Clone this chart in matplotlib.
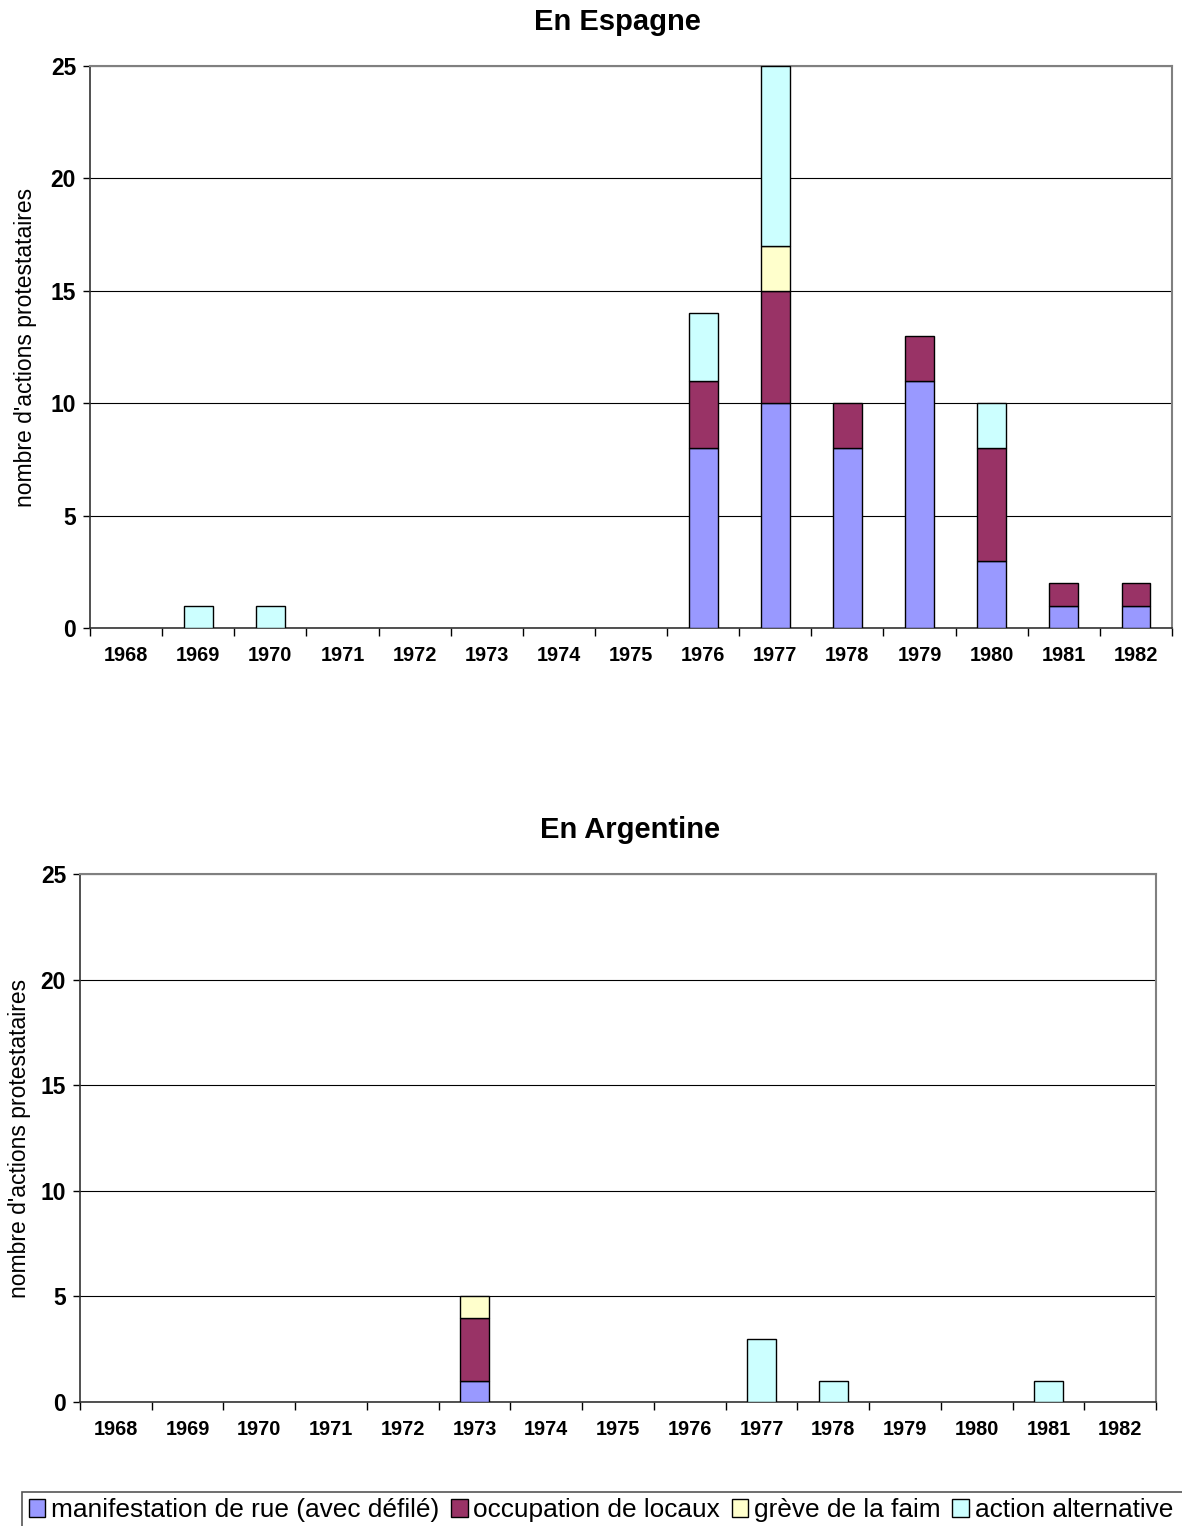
import numpy as np
import matplotlib
matplotlib.use("Agg")
import matplotlib.pyplot as plt
from matplotlib.patches import Patch, Rectangle

plt.rcParams['font.family'] = ['Liberation Sans', 'DejaVu Sans']

years = [str(y) for y in range(1968, 1983)]
series_names = ["manifestation de rue (avec défilé)", "occupation de locaux",
                "grève de la faim", "action alternative"]
colors = ['#9999FF', '#993366', '#FFFFCC', '#CCFFFF']

# En Espagne
es_manif = [0, 0, 0, 0, 0, 0, 0, 0, 8, 10, 8, 11, 3, 1, 1]
es_occup = [0, 0, 0, 0, 0, 0, 0, 0, 3, 5, 2, 2, 5, 1, 1]
es_greve = [0, 0, 0, 0, 0, 0, 0, 0, 0, 2, 0, 0, 0, 0, 0]
es_altern = [0, 1, 1, 0, 0, 0, 0, 0, 3, 8, 0, 0, 2, 0, 0]

# En Argentine
ar_manif = [0, 0, 0, 0, 0, 1, 0, 0, 0, 0, 0, 0, 0, 0, 0]
ar_occup = [0, 0, 0, 0, 0, 3, 0, 0, 0, 0, 0, 0, 0, 0, 0]
ar_greve = [0, 0, 0, 0, 0, 1, 0, 0, 0, 0, 0, 0, 0, 0, 0]
ar_altern = [0, 0, 0, 0, 0, 0, 0, 0, 0, 3, 1, 0, 0, 1, 0]

W, H = 1182, 1526
fig = plt.figure(figsize=(W / 100, H / 100), dpi=100)


def draw_panel(rect, title, title_xy, label_x, stacks):
    ax = fig.add_axes(rect)
    x = np.arange(len(years))
    bottom = np.zeros(len(years))
    for vals, col in zip(stacks, colors):
        vals = np.array(vals, dtype=float)
        mask = vals > 0
        ax.bar(x[mask], vals[mask], bottom=bottom[mask], width=0.4,
               color=col, edgecolor='black', linewidth=1.0, zorder=3)
        bottom += vals
    ax.set_xlim(-0.5, len(years) - 0.5)
    ax.set_ylim(0, 25)
    ax.set_yticks(range(0, 26, 5))
    ax.yaxis.grid(True, color='black', linewidth=0.8, zorder=0)
    ax.set_xticks(x)
    ax.set_xticklabels(years, fontsize=14.3, fontweight='bold')
    ax.set_xticks(np.arange(-0.5, len(years)), minor=True)
    ax.tick_params(axis='x', which='major', length=0, pad=13)
    ax.tick_params(axis='x', which='minor', length=6, direction='out', width=1)
    ax.tick_params(axis='y', length=5, direction='out', width=1,
                   labelsize=16.5, pad=5)
    for lab in ax.get_yticklabels():
        lab.set_fontweight('bold')
    ax.set_ylabel("nombre d'actions protestataires", fontsize=16.5)
    ax.yaxis.set_label_coords(label_x, 0.5)
    fig.text(title_xy[0] / W, 1 - title_xy[1] / H, title, fontsize=21,
             fontweight='bold', ha='center', va='center')
    for s in ['top', 'right']:
        ax.spines[s].set_color('#808080')
        ax.spines[s].set_linewidth(1.5)
    for s in ['left', 'bottom']:
        ax.spines[s].set_color('#333333')
        ax.spines[s].set_linewidth(1.2)
    return ax


draw_panel([90 / W, 1 - 628 / H, (1172 - 90) / W, (628 - 66) / H], "En Espagne",
           (617, 22), -0.049, [es_manif, es_occup, es_greve, es_altern])
draw_panel([80 / W, 1 - 1402 / H, (1156 - 80) / W, (1402 - 874) / H], "En Argentine",
           (630, 830), -0.046, [ar_manif, ar_occup, ar_greve, ar_altern])

# legend frame runs past the right and bottom edges
fig.patches.append(Rectangle((22 / W, -0.01), 1.1, (1526 - 1492) / H + 0.01,
                             transform=fig.transFigure, facecolor='none',
                             edgecolor='#555555', linewidth=1.2))
handles = [Patch(facecolor=c, edgecolor='black', linewidth=1.0, label=n)
           for c, n in zip(colors, series_names)]
leg = fig.legend(handles=handles, ncol=4, loc='center left',
                 bbox_to_anchor=(29 / W, 1 - 1510 / H), fontsize=18.95,
                 frameon=False, handlelength=0.62, handleheight=0.7,
                 handletextpad=0.22, columnspacing=0.45, borderpad=0.0,
                 borderaxespad=0.0)

fig.savefig("out.png", dpi=100)
